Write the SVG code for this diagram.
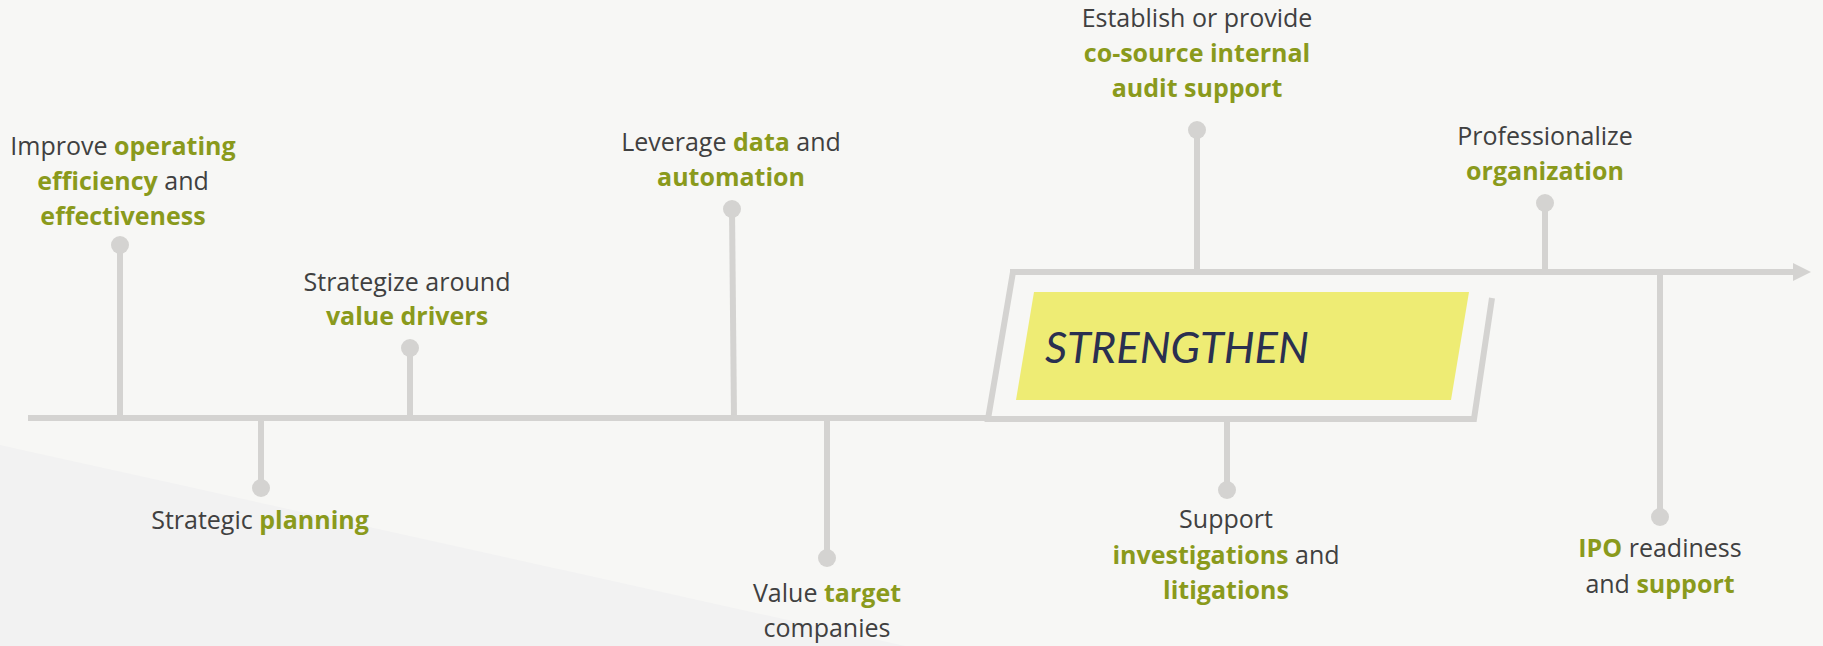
<svg xmlns="http://www.w3.org/2000/svg" width="1823" height="646" viewBox="0 0 1823 646">
<style>
.t{font-family:"Open Sans","Liberation Sans",sans-serif;font-size:25px;fill:#404040;text-anchor:middle}
.g{font-weight:bold;fill:#8a9a1c}
.ln{stroke:#d4d3d1;stroke-width:6;fill:none}
.dot{fill:#d4d3d1}
.big{font-family:Lato,"Liberation Sans",sans-serif;font-size:43.5px;font-style:italic;fill:#2a3050}
</style>
<rect x="0" y="0" width="1823" height="646" fill="#f7f7f5"/>
<polygon points="0,445 905,646 0,646" fill="#f2f2f2"/>
<g id="connectors">
<line class="ln" x1="28" y1="418" x2="991" y2="418"/>
<polyline class="ln" points="1013,272 988,419 1474,419 1492,298"/>
<line class="ln" x1="1010" y1="272" x2="1795" y2="272"/>
<polygon points="1793,263 1811,272 1793,281" fill="#d4d3d1"/>
</g>
<g id="strengthen">
<polygon points="1034,292 1469,292 1451,400 1016,400" fill="#eeec74"/>
<text class="big" x="1045" y="363">STRENGTHEN</text>
</g>
<g id="n1">
<line class="ln" x1="120" y1="418" x2="120" y2="245"/><circle class="dot" cx="120" cy="245" r="9"/>
<text class="t"><tspan x="123" y="155">Improve <tspan class="g">operating</tspan></tspan><tspan x="123" y="190"><tspan class="g">efficiency</tspan> and</tspan><tspan x="123" y="225" class="g">effectiveness</tspan></text>
</g>
<g id="n2">
<line class="ln" x1="261" y1="418" x2="261" y2="488"/><circle class="dot" cx="261" cy="488" r="9"/>
<text class="t"><tspan x="260" y="529">Strategic <tspan class="g">planning</tspan></tspan></text>
</g>
<g id="n3">
<line class="ln" x1="410" y1="418" x2="410" y2="348"/><circle class="dot" cx="410" cy="348" r="9"/>
<text class="t"><tspan x="407" y="291">Strategize around</tspan><tspan x="407" y="325" class="g">value drivers</tspan></text>
</g>
<g id="n4">
<line class="ln" x1="734" y1="418" x2="732" y2="209"/><circle class="dot" cx="732" cy="209" r="9"/>
<text class="t"><tspan x="731" y="151">Leverage <tspan class="g">data</tspan> and</tspan><tspan x="731" y="186" class="g">automation</tspan></text>
</g>
<g id="n5">
<line class="ln" x1="827" y1="418" x2="827" y2="558"/><circle class="dot" cx="827" cy="558" r="9"/>
<text class="t"><tspan x="827" y="602">Value <tspan class="g">target</tspan></tspan><tspan x="827" y="637">companies</tspan></text>
</g>
<g id="n6">
<line class="ln" x1="1197" y1="272" x2="1197" y2="130"/><circle class="dot" cx="1197" cy="130" r="9"/>
<text class="t"><tspan x="1197" y="27">Establish or provide</tspan><tspan x="1197" y="62" class="g">co-source internal</tspan><tspan x="1197" y="97" class="g">audit support</tspan></text>
</g>
<g id="n7">
<line class="ln" x1="1227" y1="419" x2="1227" y2="490"/><circle class="dot" cx="1227" cy="490" r="9"/>
<text class="t"><tspan x="1226" y="528">Support</tspan><tspan x="1226" y="564"><tspan class="g">investigations</tspan> and</tspan><tspan x="1226" y="599" class="g">litigations</tspan></text>
</g>
<g id="n8">
<line class="ln" x1="1545" y1="272" x2="1545" y2="203"/><circle class="dot" cx="1545" cy="203" r="9"/>
<text class="t"><tspan x="1545" y="145">Professionalize</tspan><tspan x="1545" y="180" class="g">organization</tspan></text>
</g>
<g id="n9">
<line class="ln" x1="1660" y1="272" x2="1660" y2="517"/><circle class="dot" cx="1660" cy="517" r="9"/>
<text class="t"><tspan x="1660" y="557"><tspan class="g">IPO</tspan> readiness</tspan><tspan x="1660" y="593">and <tspan class="g">support</tspan></tspan></text>
</g>
</svg>
